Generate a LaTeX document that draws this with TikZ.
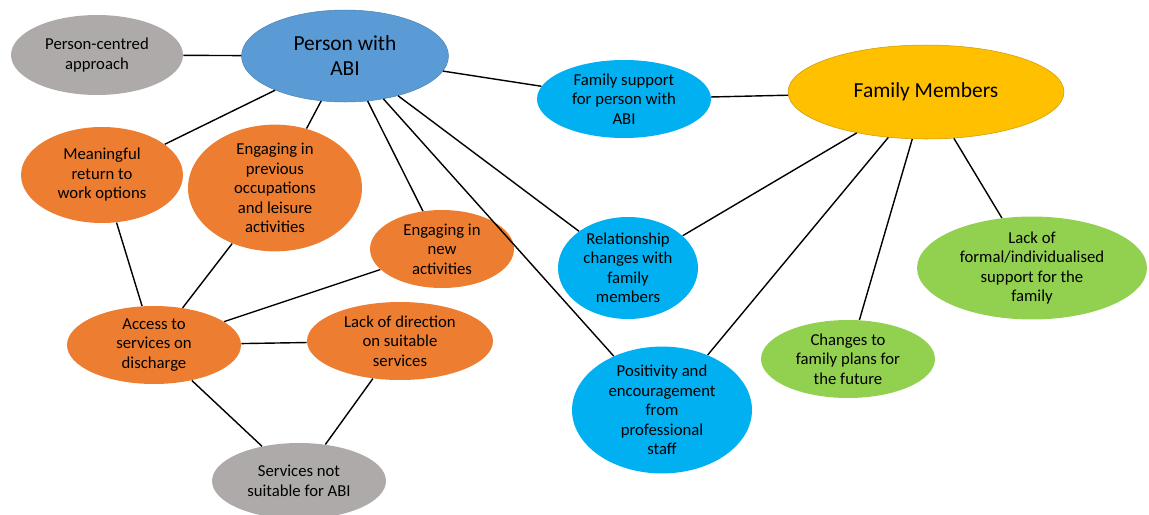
\documentclass[tikz,border=0pt]{standalone}
\usepackage{fontspec}
\setmainfont{Carlito}
\usepackage{tikz}
\usetikzlibrary{shapes.geometric}
\definecolor{abiblue}{RGB}{91, 155, 213}
\definecolor{skyblue}{RGB}{0, 176, 240}
\definecolor{themeorange}{RGB}{237, 125, 49}
\definecolor{themegrey}{RGB}{174, 170, 170}
\definecolor{themegold}{RGB}{255, 192, 0}
\definecolor{themegreen}{RGB}{146, 208, 80}

\tikzset{
  bubble/.style={ellipse, inner sep=0pt, align=center, text=black,
    font=\fontsize{9.5}{11.1}\selectfont},
  hub/.style={bubble, font=\fontsize{12.2}{14.2}\selectfont},
  link/.style={black, line width=0.8pt}
}

\begin{document}
\begin{tikzpicture}[x=0.02cm, y=-0.02cm]
    \useasboundingbox (0,0) rectangle (1149,514);
    % central themes
    \node[hub, fill=abiblue, draw=abiblue!85!black, line width=0.3pt, minimum width=4.14cm, minimum height=1.84cm] (abi) at (345,56) {Person with\\ABI};
    \node[hub, fill=themegold, draw=themegold!80!black, line width=0.3pt, minimum width=5.52cm, minimum height=1.88cm] (fam) at (926,92) {Family Members};
    % grey
    \node[bubble, fill=themegrey, minimum width=3.44cm, minimum height=1.6cm] (pca) at (97,55) {Person-centred\\approach};
    \node[bubble, fill=themegrey, minimum width=3.48cm, minimum height=1.52cm] (notsuit) at (299,481) {Services not\\suitable for ABI};
    % orange
    \node[bubble, fill=themeorange, minimum width=3.24cm, minimum height=1.92cm] (work) at (102,175) {Meaningful\\return to\\work options};
    \node[bubble, fill=themeorange, minimum width=3.48cm, minimum height=2.08cm] (prev) at (275,188) {Engaging in\\previous\\occupations\\and leisure\\activities};
    \node[bubble, fill=themeorange, minimum width=2.88cm, minimum height=1.56cm] (new) at (442,249) {Engaging in\\new\\activities};
    \node[bubble, fill=themeorange, minimum width=3.48cm, minimum height=1.56cm] (access) at (154,345) {Access to\\services on\\discharge};
    \node[bubble, fill=themeorange, minimum width=3.72cm, minimum height=1.56cm] (direction) at (400,341) {Lack of direction\\on suitable\\services};
    % blue
    \node[bubble, fill=skyblue, minimum width=3.48cm, minimum height=1.56cm] (support) at (624,99) {Family support\\for person with\\ABI};
    \node[bubble, fill=skyblue, minimum width=2.8cm, minimum height=2.04cm] (relation) at (628,268) {Relationship\\changes with\\family\\members};
    \node[bubble, fill=skyblue, minimum width=3.6cm, minimum height=2.12cm] (positive) at (662,410) {Positivity and\\encouragement\\from\\professional\\staff};
    % green
    \node[bubble, fill=themegreen, minimum width=3.48cm, minimum height=1.56cm] (plans) at (848,359) {Changes to\\family plans for\\the future};
    \node[bubble, fill=themegreen, minimum width=4.6cm, minimum height=1.8cm] (formal) at (1032,268) {Lack of\\formal/individualised\\support for the\\family};
    % connectors
    \draw[link] (pca) -- (abi);
    \draw[link] (abi) -- (work);
    \draw[link] (abi) -- (prev);
    \draw[link] (abi) -- (new);
    \draw[link] (abi) -- (relation);
    \draw[link] (abi) -- (positive);
    \draw[link] (abi) -- (support);
    \draw[link] (support) -- (fam);
    \draw[link] (fam) -- (relation);
    \draw[link] (fam) -- (positive);
    \draw[link] (fam) -- (plans);
    \draw[link] (fam) -- (formal);
    \draw[link] (work) -- (access);
    \draw[link] (prev) -- (access);
    \draw[link] (new) -- (access);
    \draw[link] (access) -- (direction);
    \draw[link] (access) -- (notsuit);
    \draw[link] (direction) -- (notsuit);
\end{tikzpicture}
\end{document}
